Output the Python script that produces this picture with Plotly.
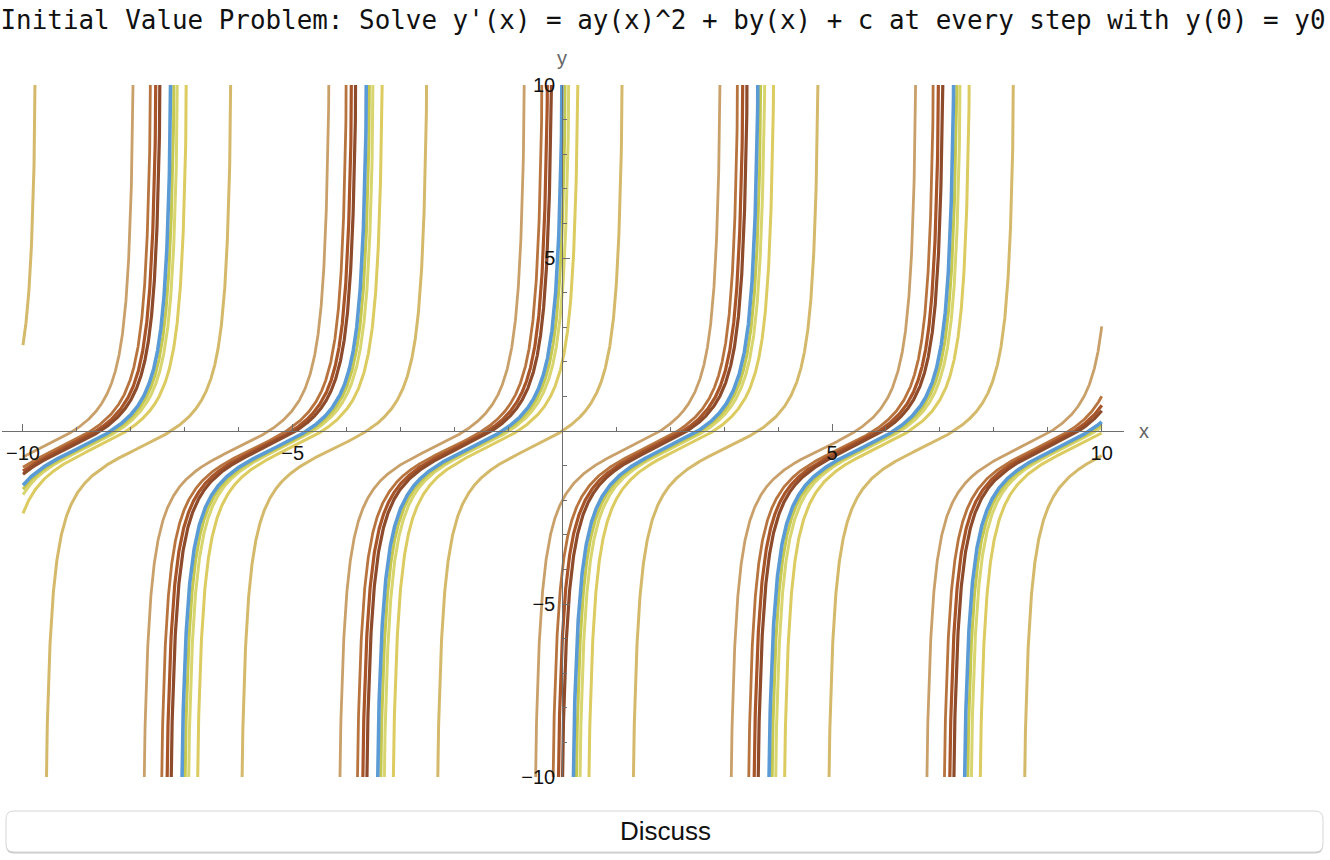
import numpy as np
import plotly.graph_objects as go

# ---------------- data ----------------
A_COEF, B_COEF, C_COEF = 1.0, 1.0, 1.0          # y' = a*y^2 + b*y + c
Y0_VALUES = [-2, -4, -6, -10, 0, 2, 4, 6, 10]    # initial values y(0) = y0 (one curve each)
CURVE_COLORS = ["#C9A06A", "#B8743F", "#A9552A", "#8E4B2B", "#D5B96B",
                "#DCCB60", "#D8D46E", "#C4C84E", "#5B9BD5"]
CURVE_WIDTHS = [2.8, 2.8, 3.2, 3.2, 3.0, 3.0, 3.0, 3.0, 3.6]
X_TICK_VALS = [-10, -5, 5, 10]
X_TICK_TEXT = ["\u221210", "\u22125", "5", "10"]
Y_TICK_VALS = [-10, -5, 5, 10]
Y_TICK_TEXT = ["\u221210", "\u22125", "5", "10"]
TITLE = "Initial Value Problem: Solve y'(x) = ay(x)^2 + by(x) + c at every step with y(0) = y0"

# ---------------- layout geometry ----------------
W, H = 1330, 860
ML, MR, MT, MB = 2, 206, 85, 83
X_RANGE = [-10.389, 10.413]
Y_RANGE = [-10, 10]
PW, PH = W - ML - MR, H - MT - MB


def px_to_paper_x(px):
    return (px - ML) / PW


def px_to_paper_y(py):
    return (H - MB - py) / PH


def solve_ivp_exact(a, b, c, y0, x):
    """Closed-form solution of the Riccati IVP (4ac > b^2 case)."""
    w = np.sqrt(4 * a * c - b * b) / 2.0
    phi = np.arctan((a * y0 + b / 2.0) / w)
    theta = w * x + phi
    y = (w * np.tan(theta) - b / 2.0) / a
    branch = np.floor((theta + np.pi / 2) / np.pi)
    y = y.astype(float)
    y[np.abs(y) > 40] = np.nan
    xs, ys = [], []
    for i in range(len(x)):
        if i > 0 and branch[i] != branch[i - 1]:
            xs.append(None)
            ys.append(None)
        xs.append(float(x[i]))
        ys.append(None if np.isnan(y[i]) else float(y[i]))
    return xs, ys


x_grid = np.linspace(-10, 10, 8001)

fig = go.Figure()
for y0, col, lw in zip(Y0_VALUES, CURVE_COLORS, CURVE_WIDTHS):
    xs, ys = solve_ivp_exact(A_COEF, B_COEF, C_COEF, y0, x_grid)
    fig.add_trace(go.Scatter(x=xs, y=ys, mode="lines",
                             line=dict(color=col, width=lw),
                             hoverinfo="skip", showlegend=False,
                             connectgaps=False))

axis_col = "#6e6e6e"
tick_font = dict(family="Liberation Sans, Arial, sans-serif", size=20, color="#111")

fig.update_layout(
    template="none",
    width=W, height=H,
    margin=dict(l=ML, r=MR, t=MT, b=MB, autoexpand=False),
    paper_bgcolor="white", plot_bgcolor="white",
    showlegend=False,
    title=dict(text=TITLE, x=663 / W, xref="container", xanchor="center",
               y=1 - 20 / H, yref="container", yanchor="middle",
               font=dict(family="DejaVu Sans Mono, monospace", size=25.9, color="#111")),
    xaxis=dict(range=X_RANGE, anchor="free", position=0.5, side="bottom",
               showgrid=False, zeroline=False, automargin=False,
               showline=True, linecolor=axis_col, linewidth=1.2,
               ticks="inside", ticklen=7, tickwidth=1.2, tickcolor=axis_col,
               tickmode="array", tickvals=X_TICK_VALS, ticktext=X_TICK_TEXT,
               ticklabelstandoff=4, tickfont=tick_font,
               minor=dict(ticks="inside", ticklen=4, tickwidth=1, tickcolor=axis_col,
                          tickmode="linear", tick0=0, dtick=1, showgrid=False)),
    yaxis=dict(range=Y_RANGE, anchor="free",
               position=(0 - X_RANGE[0]) / (X_RANGE[1] - X_RANGE[0]), side="left",
               showgrid=False, zeroline=False, automargin=False,
               showline=True, linecolor=axis_col, linewidth=1.2,
               ticks="inside", ticklen=7, tickwidth=1.2, tickcolor=axis_col,
               tickmode="array", tickvals=Y_TICK_VALS, ticktext=Y_TICK_TEXT,
               ticklabelstandoff=3, tickfont=tick_font,
               minor=dict(ticks="inside", ticklen=4, tickwidth=1, tickcolor=axis_col,
                          tickmode="linear", tick0=0, dtick=1, showgrid=False)),
)

# axis names
fig.add_annotation(text="x", xref="paper", yref="paper",
                   x=px_to_paper_x(1144), y=px_to_paper_y(431),
                   showarrow=False, xanchor="center", yanchor="middle",
                   font=dict(family="Liberation Sans, Arial, sans-serif", size=20, color="#666"))
fig.add_annotation(text="y", xref="paper", yref="paper",
                   x=px_to_paper_x(562), y=px_to_paper_y(58),
                   showarrow=False, xanchor="center", yanchor="middle",
                   font=dict(family="Liberation Sans, Arial, sans-serif", size=20, color="#666"))

# "Discuss" button
bx0, bx1, by0, by1, r = 6, 1323, 811, 852, 8


def rounded_path(x0, x1, y0, y1, rr, dy=0):
    X = px_to_paper_x
    Y = lambda v: px_to_paper_y(v + dy)
    return (f"M {X(x0 + rr)},{Y(y0)} L {X(x1 - rr)},{Y(y0)} "
            f"Q {X(x1)},{Y(y0)} {X(x1)},{Y(y0 + rr)} L {X(x1)},{Y(y1 - rr)} "
            f"Q {X(x1)},{Y(y1)} {X(x1 - rr)},{Y(y1)} L {X(x0 + rr)},{Y(y1)} "
            f"Q {X(x0)},{Y(y1)} {X(x0)},{Y(y1 - rr)} L {X(x0)},{Y(y0 + rr)} "
            f"Q {X(x0)},{Y(y0)} {X(x0 + rr)},{Y(y0)} Z")


fig.add_shape(type="path", xref="paper", yref="paper",
              path=rounded_path(bx0, bx1, by0, by1, r, dy=1.5),
              fillcolor="#c8c8c8", line=dict(width=0), layer="above")
fig.add_shape(type="path", xref="paper", yref="paper",
              path=rounded_path(bx0, bx1, by0, by1, r),
              fillcolor="white", line=dict(color="#d6d6d6", width=1), layer="above")
fig.add_annotation(text="Discuss", xref="paper", yref="paper",
                   x=px_to_paper_x(665), y=px_to_paper_y(831),
                   showarrow=False, xanchor="center", yanchor="middle",
                   font=dict(family="Liberation Sans, Arial, sans-serif", size=26, color="#111"))

fig.write_html("out.html")
